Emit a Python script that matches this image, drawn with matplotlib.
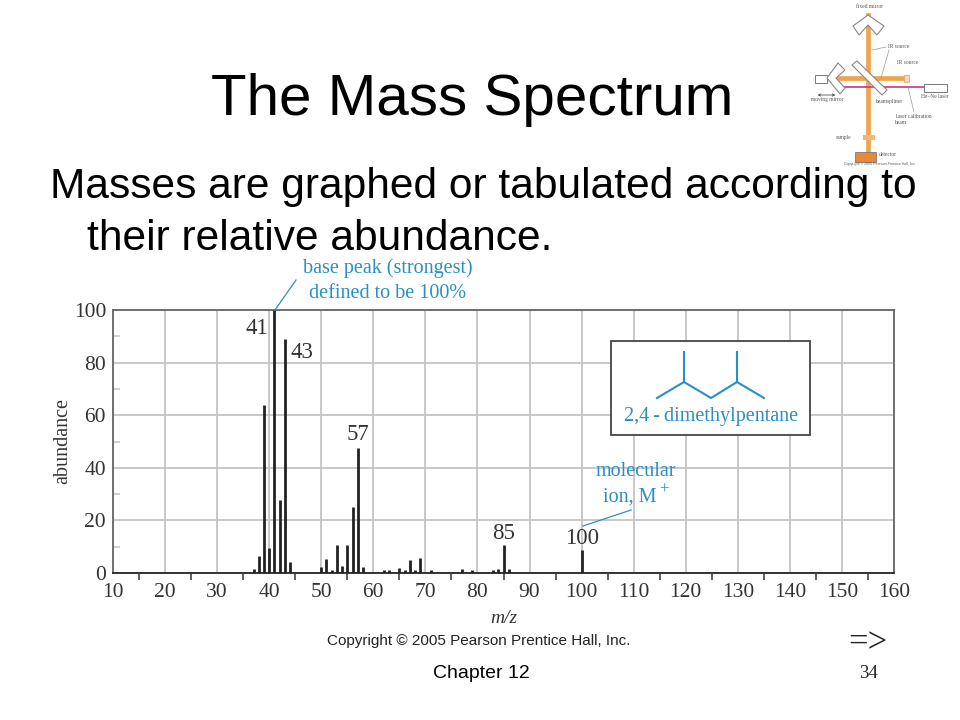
import matplotlib
matplotlib.use('Agg')
import matplotlib.pyplot as plt
from matplotlib.patches import Polygon, Rectangle

# Peaks
mz = [37, 38, 39, 40, 41, 42, 43, 44, 50, 51, 52, 53, 54, 55, 56, 57, 58,
      62, 63, 65, 66, 67, 68, 69, 71, 77, 79, 83, 84, 85, 86, 100]
abundance = [1.6, 6.5, 64, 9.6, 100, 27.7, 89, 4.2, 2.3, 5.5, 1.3, 10.8, 2.5, 10.8, 25, 47.7, 2.3,
             1.0, 1.2, 2.0, 1.2, 4.8, 1.2, 5.7, 1.2, 1.7, 1.2, 1.0, 1.5, 10.8, 1.4, 8.6]
x_ticks = list(range(10, 170, 10))
x_minor = list(range(15, 165, 10))
y_ticks = [0, 20, 40, 60, 80, 100]
y_minor = [10, 30, 50, 70, 90]
peak_labels = [41, 43, 57, 85, 100]

SERIF = 'Liberation Serif'
SANS = 'Liberation Sans'
BLUE = '#2a8fc4'
DARK = '#333333'
GRID = '#c4c4c4'
ORANGE = '#eea54e'

fig = plt.figure(figsize=(9.6, 7.2), dpi=100)

# overlay in pixel coordinates for the slide text and drawings
over = fig.add_axes([0, 0, 1, 1], zorder=3)
over.set_xlim(0, 960)
over.set_ylim(720, 0)
over.axis('off')
over.patch.set_alpha(0)

# the spectrum itself
ax = fig.add_axes([113 / 960, (720 - 573) / 720, (894 - 113) / 960, (573 - 310) / 720], zorder=1)
ax.set_xlim(10, 160)
ax.set_ylim(0, 100)
ax.set_xticks(x_ticks)
ax.set_yticks(y_ticks)
ax.set_xticks(x_minor, minor=True)
ax.set_yticks(y_minor, minor=True)
ax.grid(True, which='major', color=GRID, linewidth=1.3)
ax.set_axisbelow(True)
ax.tick_params(axis='x', which='major', length=0, pad=7, labelsize=15.5, labelcolor=DARK)
ax.tick_params(axis='y', which='major', length=0, pad=5, labelsize=15.5, labelcolor=DARK)
ax.tick_params(axis='x', which='minor', direction='out', length=5, width=1.1, color=DARK)
ax.tick_params(axis='y', which='minor', direction='in', length=5, width=1.1, color=GRID)
for lab in ax.get_xticklabels() + ax.get_yticklabels():
    lab.set_family(SERIF)
for side in ['top', 'right', 'left']:
    ax.spines[side].set_color('#666666')
    ax.spines[side].set_linewidth(1.3)
ax.spines['bottom'].set_color(DARK)
ax.spines['bottom'].set_linewidth(1.4)
ax.vlines(mz, 0, abundance, color='#222222', linewidth=2.0, zorder=3)
ax.set_xlabel('m/z', family=SERIF, style='italic', fontsize=14, color=DARK, labelpad=6)
ax.set_ylabel('abundance', family=SERIF, fontsize=14.5, color=DARK, labelpad=1)

# label offsets from the peak top, in pixels (x right, y up)
label_offset = {41: (-18, -18), 43: (17, -14), 57: (0, 13), 85: (0, 11), 100: (0, 12)}
tops = dict(zip(mz, abundance))
for m in peak_labels:
    dx, dy = label_offset[m]
    ax.annotate(str(m), (m, tops[m]), xytext=(dx * 0.72, dy * 0.72), textcoords='offset points',
                ha='center', va='center', family=SERIF, fontsize=16.5, color=DARK, zorder=4)

# titles
over.text(472, 100, 'The Mass Spectrum', family=SANS, fontsize=42, ha='center', va='center', color='black')
over.text(50, 187, 'Masses are graphed or tabulated according to', family=SANS, fontsize=30.6, ha='left', va='center')
over.text(87, 239, 'their relative abundance.', family=SANS, fontsize=30.6, ha='left', va='center')

# callouts
over.text(388, 268, 'base peak (strongest)', family=SERIF, fontsize=14.5, color=BLUE, ha='center', va='center')
over.text(388, 294, 'defined to be 100%', family=SERIF, fontsize=14.5, color=BLUE, ha='center', va='center')
over.plot([275, 296], [310, 280], color=BLUE, linewidth=0.9)
over.text(636, 471, 'molecular', family=SERIF, fontsize=14.5, color=BLUE, ha='center', va='center')
over.text(603, 497, 'ion, M', family=SERIF, fontsize=14.5, color=BLUE, ha='left', va='center')
over.text(664, 490, '+', family=SERIF, fontsize=12, color=BLUE, ha='center', va='center')
over.plot([583, 631], [526, 510], color=BLUE, linewidth=0.9)

# molecule box
over.add_patch(Rectangle((611, 341), 199, 94, facecolor='white', edgecolor='#444444', linewidth=1.3))
over.plot([657, 684, 711, 737, 764], [398, 382, 398, 382, 398], color=BLUE, linewidth=1.5)
over.plot([684, 684], [352, 382], color=BLUE, linewidth=1.5)
over.plot([737, 737], [352, 382], color=BLUE, linewidth=1.5)
over.text(711, 416, '2,4\u2009-\u2009dimethylpentane', family=SERIF, fontsize=14.5, color=BLUE, ha='center', va='center')

# footer
over.text(478.5, 641, 'Copyright © 2005 Pearson Prentice Hall, Inc.', family=SANS, fontsize=11, color='#222222', ha='center', va='center')
over.text(868, 644, '=>', family=SERIF, fontsize=25, ha='center', va='center', color='#222222')
over.text(481, 673, 'Chapter 12', family=SANS, fontsize=14, ha='center', va='center')
over.text(868, 674, '34', family=SERIF, fontsize=13.5, ha='center', va='center', color='#222222')

# small spectrometer sketch, top right
over.plot([868, 868], [15, 150], color=ORANGE, linewidth=3.4, zorder=1)
over.plot([835, 902], [78, 78], color=ORANGE, linewidth=3.4, zorder=1)
over.plot([843, 924], [87, 87], color='#d0308c', linewidth=1.2, zorder=1)
over.plot([872, 886], [50, 47], color='#999999', linewidth=0.5)
over.plot([881, 889], [78, 50], color='#999999', linewidth=0.5)
over.plot([908, 914], [87, 112], color='#999999', linewidth=0.5)
mirror_kw = dict(facecolor='white', edgecolor='#888888', linewidth=0.8, zorder=2)
over.add_patch(Polygon([(853, 26), (868, 15), (884, 26), (877, 35), (868, 25), (859, 35)], **mirror_kw))
over.add_patch(Polygon([(838, 63), (827, 78), (840, 94), (845, 88), (836, 78), (845, 70)], **mirror_kw))
over.add_patch(Polygon([(852, 65), (857, 61), (887, 90), (882, 95)], **mirror_kw))
over.add_patch(Rectangle((815, 75), 12, 8, facecolor='white', edgecolor='#777777', linewidth=0.7))
over.add_patch(Rectangle((924, 84), 23, 8, facecolor='white', edgecolor='#777777', linewidth=0.7))
over.add_patch(Rectangle((904, 75), 5, 7, facecolor='#f6d7b0', edgecolor='#d9a060', linewidth=0.5))
over.add_patch(Rectangle((863, 135), 12, 5, facecolor='#eeb67a', edgecolor='none'))
over.add_patch(Rectangle((855, 152), 21, 10, facecolor='#e8883a', edgecolor='#777777', linewidth=0.6))
over.annotate('', xy=(815, 95), xytext=(838, 95), arrowprops=dict(arrowstyle='<->', lw=0.5, color='#333333', mutation_scale=4))
sketch_labels = [(870, 6, 'fixed mirror'), (899, 47, 'IR source'), (908, 62, 'IR source'),
                 (827, 100, 'moving mirror'), (890, 101, 'beamsplitter'), (935, 96, 'He–Ne laser'),
                 (914, 116, 'laser calibration'), (901, 123, 'beam'), (844, 137, 'sample'),
                 (888, 155, 'detector')]
for sx, sy, s in sketch_labels:
    over.text(sx, sy, s, family=SERIF, fontsize=4, color='#555555', ha='center', va='center')
over.text(880, 164.5, 'Copyright © 2005 Pearson Prentice Hall, Inc.', family=SANS, fontsize=2.6,
          color='#555555', ha='center', va='center')

fig.savefig('out.png', dpi=100, facecolor='white')
